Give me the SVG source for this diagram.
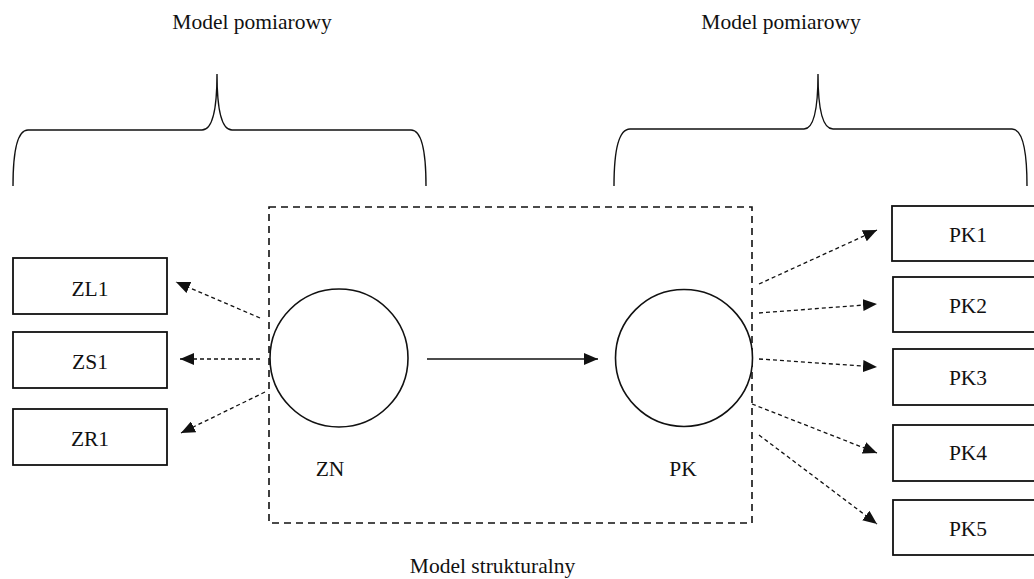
<svg xmlns="http://www.w3.org/2000/svg" width="1034" height="579" viewBox="0 0 1034 579">
  <style>
    text { font-family: "Liberation Serif", "Times New Roman", serif; font-size: 21.5px; fill: #111; text-anchor: middle; }
    .box { fill: #fff; stroke: #111; stroke-width: 1.8; }
    .latent { fill: #fff; stroke: #111; stroke-width: 1.6; }
    .brace { fill: none; stroke: #111; stroke-width: 1.4; }
    .frame { fill: none; stroke: #111; stroke-width: 1.6; stroke-dasharray: 7 5; }
    .load { fill: none; stroke: #111; stroke-width: 1.3; stroke-dasharray: 4 3; marker-end: url(#head); }
    .path { fill: none; stroke: #111; stroke-width: 1.5; marker-end: url(#head); }
  </style>
  <defs>
    <marker id="head" viewBox="0 0 14 12" refX="14" refY="6" markerWidth="14" markerHeight="12" markerUnits="userSpaceOnUse" orient="auto">
      <path d="M0,0 L14,6 L0,12 z" fill="#111"/>
    </marker>
  </defs>

  <rect width="1034" height="579" fill="#fff"/>

  <!-- measurement model braces and labels -->
  <g id="measurement-left">
    <path class="brace" d="M13,186 C13,150 18,130 28,130 L202,130 C212,130 217,110 217,74 C217,110 222,130 232,130 L411,130 C421,130 426,150 426,186"/>
    <text x="252" y="28.5">Model pomiarowy</text>
  </g>
  <g id="measurement-right">
    <path class="brace" d="M614,186 C614,150 619,129 630,129 L804,129 C814,129 818,110 818,74 C818,110 823,129 833,129 L1012,129 C1022,129 1027,150 1027,186"/>
    <text x="781" y="28.5">Model pomiarowy</text>
  </g>

  <!-- structural model frame -->
  <g id="structural">
    <rect class="frame" x="269" y="207" width="483" height="316"/>
    <text x="492.5" y="573">Model strukturalny</text>
  </g>

  <!-- latent variables -->
  <g id="ZN">
    <circle class="latent" cx="339" cy="358" r="69"/>
    <text x="330" y="476">ZN</text>
  </g>
  <g id="PK">
    <circle class="latent" cx="684" cy="358" r="68.5"/>
    <text x="683" y="476">PK</text>
  </g>

  <!-- indicators -->
  <g id="ZL1">
    <rect class="box" x="13" y="258" width="154" height="56"/>
    <text x="90" y="296">ZL1</text>
  </g>
  <g id="ZS1">
    <rect class="box" x="13" y="332" width="154" height="56"/>
    <text x="90" y="369">ZS1</text>
  </g>
  <g id="ZR1">
    <rect class="box" x="13" y="409" width="154" height="56"/>
    <text x="90" y="446">ZR1</text>
  </g>
  <g id="PK1">
    <rect class="box" x="892" y="206" width="154" height="55"/>
    <text x="968" y="242">PK1</text>
  </g>
  <g id="PK2">
    <rect class="box" x="893" y="277" width="154" height="55"/>
    <text x="968" y="313">PK2</text>
  </g>
  <g id="PK3">
    <rect class="box" x="893" y="349" width="154" height="56"/>
    <text x="968" y="385">PK3</text>
  </g>
  <g id="PK4">
    <rect class="box" x="893" y="425" width="154" height="56"/>
    <text x="968" y="460">PK4</text>
  </g>
  <g id="PK5">
    <rect class="box" x="893" y="500" width="154" height="55"/>
    <text x="968" y="536">PK5</text>
  </g>

  <!-- connectors -->
  <g id="connectors">
    <line class="path" x1="427" y1="359" x2="598" y2="359"/>
    <line class="load" x1="260" y1="318" x2="176" y2="282"/>
    <line class="load" x1="260" y1="359" x2="180" y2="359"/>
    <line class="load" x1="265" y1="392" x2="181" y2="433"/>
    <line class="load" x1="759" y1="284" x2="877" y2="230"/>
    <line class="load" x1="759" y1="313" x2="877" y2="304"/>
    <line class="load" x1="759" y1="359" x2="877" y2="367"/>
    <line class="load" x1="752" y1="404" x2="877" y2="453"/>
    <line class="load" x1="759" y1="435" x2="877" y2="524"/>
  </g>
</svg>
